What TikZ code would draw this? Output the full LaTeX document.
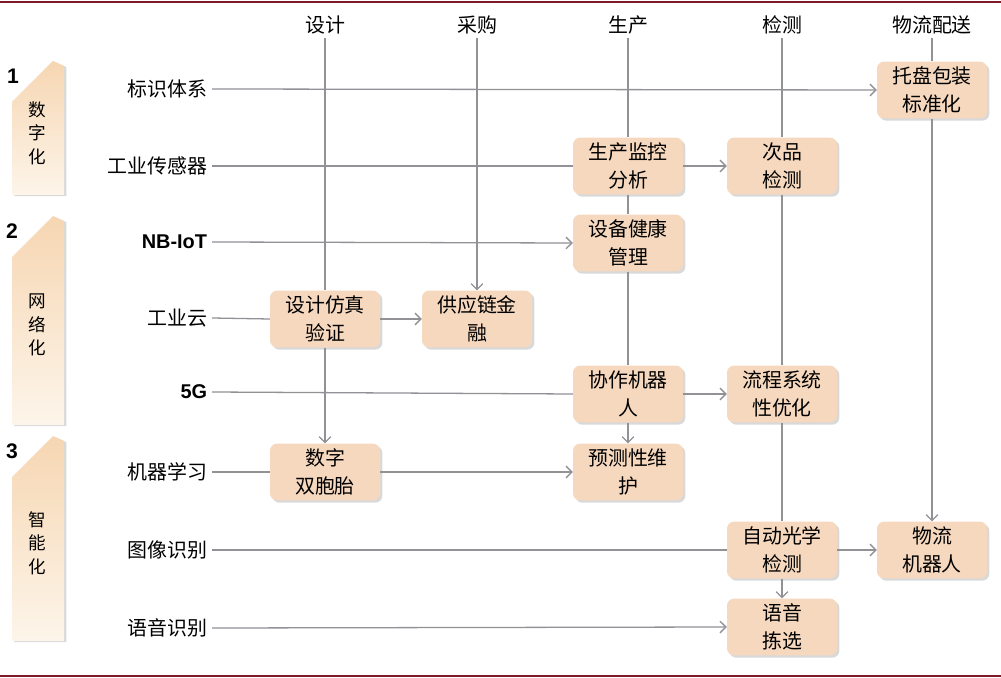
\documentclass[tikz,border=0pt]{standalone}
\usepackage{fontspec}
\setmainfont{Noto Sans CJK SC}
\newfontfamily\latinbf{Liberation Sans}[BoldFont={Liberation Sans Bold}]
\usepackage{tikz}
\usetikzlibrary{arrows.meta}
\usetikzlibrary{shadows}
\definecolor{boxfill}{RGB}{246,216,190}
\definecolor{linegray}{RGB}{145,145,150}
\definecolor{framered}{RGB}{125,25,40}
\definecolor{bantop}{RGB}{246,214,178}
\definecolor{banbottom}{RGB}{253,245,234}
\newcommand{\chn}{\fontsize{17}{24}\selectfont}

\begin{document}
\begin{tikzpicture}[x=0.03cm, y=-0.03cm,
	stage/.style={fill=boxfill, rounded corners=6pt, minimum width=3.3cm, minimum height=1.7cm,
		align=center, font=\chn, drop shadow={shadow xshift=2pt, shadow yshift=-2pt, opacity=0.3}},
	rowlabel/.style={anchor=east, font=\chn, inner sep=4pt},
	colhead/.style={font=\chn, inner sep=3pt},
	link/.style={draw=linegray, line width=1.1pt},
	flow/.style={link, -{Straight Barb[length=5pt, width=10pt]}},
	banner/.style={top color=bantop, bottom color=banbottom,
		drop shadow={shadow xshift=2pt, shadow yshift=-1pt, opacity=0.3}},
	stagenum/.style={font=\latinbf\bfseries\fontsize{18}{20}\selectfont, inner sep=0pt}]
	\useasboundingbox (0, 0) rectangle (1001, 678);
	\draw[framered, line width=1.2pt] (0, 2) -- (1001, 2);
	\draw[framered, line width=1.2pt] (0, 676) -- (1001, 676);
	% left banners
	\shade[banner] (12, 195) -- (12, 102) -- (53, 61) -- (64, 66) -- (64, 195) -- cycle;
	\shade[banner] (12, 425) -- (12, 257) -- (53, 216) -- (64, 221) -- (64, 425) -- cycle;
	\shade[banner] (12, 641) -- (12, 477) -- (53, 436) -- (64, 441) -- (64, 641) -- cycle;
	\node[stagenum] (num1) at (13, 76) {1};
	\node[stagenum] (num2) at (12, 231) {2};
	\node[stagenum] (num3) at (12, 451) {3};
	\node[font=\fontsize{15}{20}\selectfont, align=center] (digi) at (37, 133) {数\\字\\化};
	\node[font=\fontsize{15}{20}\selectfont, align=center] (net) at (37, 325) {网\\络\\化};
	\node[font=\fontsize{15}{20}\selectfont, align=center] (smart) at (37, 543) {智\\能\\化};
	% column heads
	\node[colhead] (hDesign) at (325, 25) {设计};
	\node[colhead] (hPurch) at (477, 25) {采购};
	\node[colhead] (hProd) at (628, 25) {生产};
	\node[colhead] (hTest) at (782, 25) {检测};
	\node[colhead] (hLog) at (932, 25) {物流配送};
	% row labels
	\node[rowlabel] (lIdent) at (212, 89) {标识体系};
	\node[rowlabel] (lSensor) at (212, 166) {工业传感器};
	\node[rowlabel, font=\latinbf\bfseries\fontsize{17}{20}\selectfont] (lNB) at (212, 242) {NB-IoT};
	\node[rowlabel] (lCloud) at (212, 318) {工业云};
	\node[rowlabel, font=\latinbf\bfseries\fontsize{17}{20}\selectfont] (l5G) at (212, 392) {5G};
	\node[rowlabel] (lML) at (212, 472) {机器学习};
	\node[rowlabel] (lImage) at (212, 550) {图像识别};
	\node[rowlabel] (lVoice) at (212, 628) {语音识别};
	% boxes
	\node[stage] (pallet) at (932, 90) {托盘包装\\标准化};
	\node[stage] (monitor) at (628, 166) {生产监控\\分析};
	\node[stage] (defect) at (782, 166) {次品\\检测};
	\node[stage] (health) at (628, 243) {设备健康\\管理};
	\node[stage] (simVerify) at (325, 319) {设计仿真\\验证};
	\node[stage] (finance) at (477, 319) {供应链金\\融};
	\node[stage] (cobot) at (628, 394) {协作机器\\人};
	\node[stage] (optim) at (782, 394) {流程系统\\性优化};
	\node[stage] (twin) at (325, 472) {数字\\双胞胎};
	\node[stage] (predict) at (628, 472) {预测性维\\护};
	\node[stage] (aoi) at (782, 550) {自动光学\\检测};
	\node[stage] (logbot) at (932, 550) {物流\\机器人};
	\node[stage] (pick) at (782, 627) {语音\\拣选};
	% columns
	\draw[link] (hDesign.south) -- (simVerify.north);
	\draw[flow] (simVerify.south) -- (twin.north);
	\draw[flow] (hPurch.south) -- (finance.north);
	\draw[link] (hProd.south) -- (monitor.north);
	\draw[link] (monitor.south) -- (health.north);
	\draw[link] (health.south) -- (cobot.north);
	\draw[flow] (cobot.south) -- (predict.north);
	\draw[link] (hTest.south) -- (defect.north);
	\draw[link] (defect.south) -- (optim.north);
	\draw[link] (optim.south) -- (aoi.north);
	\draw[flow] (aoi.south) -- (pick.north);
	\draw[link] (hLog.south) -- (pallet.north);
	\draw[flow] (pallet.south) -- (logbot.north);
	% rows
	\draw[flow] (lIdent.east) -- (pallet.west);
	\draw[link] (lSensor.east) -- (monitor.west);
	\draw[flow] (monitor.east) -- (defect.west);
	\draw[flow] (lNB.east) -- (health.west);
	\draw[link] (lCloud.east) -- (simVerify.west);
	\draw[flow] (simVerify.east) -- (finance.west);
	\draw[link] (l5G.east) -- (cobot.west);
	\draw[flow] (cobot.east) -- (optim.west);
	\draw[link] (lML.east) -- (twin.west);
	\draw[flow] (twin.east) -- (predict.west);
	\draw[link] (lImage.east) -- (aoi.west);
	\draw[flow] (aoi.east) -- (logbot.west);
	\draw[flow] (lVoice.east) -- (pick.west);
\end{tikzpicture}
\end{document}
